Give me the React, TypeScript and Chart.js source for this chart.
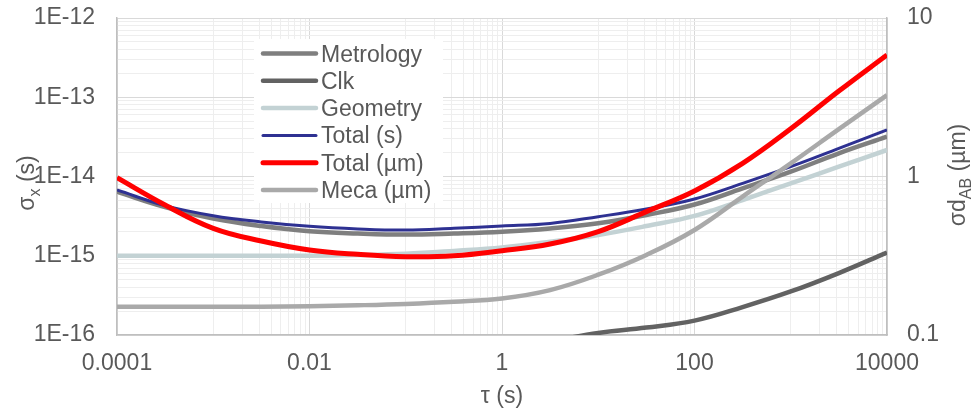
import React, { useEffect, useRef } from 'react';
import { Chart, registerables } from 'chart.js';

Chart.register(...registerables);

// ---- data ----
const TAU = [1e-4, 3.16e-4, 1e-3, 3.16e-3, 0.01, 0.0316, 0.1, 0.316, 1, 3.16, 10, 31.6, 100, 316, 1000, 3160, 10000];

const METROLOGY = [6.43e-15, 4.12e-15, 2.95e-15, 2.37e-15, 2.04e-15, 1.91e-15, 1.85e-15, 1.91e-15, 2.01e-15, 2.21e-15, 2.57e-15, 3.27e-15, 4.43e-15, 7.1e-15, 1.15e-14, 1.96e-14, 3.18e-14];
const CLK = [null, null, null, null, null, null, null, null, 7e-17, 8.4e-17, 1.06e-16, 1.24e-16, 1.52e-16, 2.25e-16, 3.54e-16, 6.05e-16, 1.1e-15];
const GEOMETRY = [1.0e-15, 1.0e-15, 1.0e-15, 1.0e-15, 1.0e-15, 1.02e-15, 1.06e-15, 1.15e-15, 1.27e-15, 1.5e-15, 1.83e-15, 2.37e-15, 3.18e-15, 5.05e-15, 8.2e-15, 1.33e-14, 2.16e-14];
const TOTAL_S = [6.76e-15, 4.29e-15, 3.2e-15, 2.67e-15, 2.35e-15, 2.18e-15, 2.11e-15, 2.22e-15, 2.37e-15, 2.56e-15, 3.11e-15, 3.89e-15, 5.2e-15, 8.2e-15, 1.33e-14, 2.26e-14, 3.87e-14];
const TOTAL_UM = [0.983, 0.661, 0.471, 0.392, 0.344, 0.323, 0.312, 0.316, 0.34, 0.375, 0.449, 0.6, 0.81, 1.21, 2.0, 3.46, 5.85];
const MECA_UM = [0.151, 0.151, 0.151, 0.151, 0.152, 0.154, 0.157, 0.162, 0.17, 0.192, 0.24, 0.32, 0.46, 0.747, 1.21, 1.99, 3.26];

const SERIES_NAMES = ['Metrology', 'Clk', 'Geometry', 'Total (s)', 'Total (µm)', 'Meca (µm)'];

const X_TICK_VALUES = [1e-4, 1e-2, 1, 100, 10000];
const X_TICK_LABELS = ['0.0001', '0.01', '1', '100', '10000'];
const YL_TICK_VALUES = [1e-16, 1e-15, 1e-14, 1e-13, 1e-12];
const YL_TICK_LABELS = ['1E-16', '1E-15', '1E-14', '1E-13', '1E-12'];
const YR_TICK_VALUES = [0.1, 1, 10];
const YR_TICK_LABELS = ['0.1', '1', '10'];

// ---- styles ----
const FONT = '"Liberation Sans", Arial, sans-serif';
const TEXT = '#595959';
const MAJOR = '#d9d9d9';
const MINOR = '#eeeeee';
const AXIS = '#bfbfbf';

const STYLES = [
  { color: '#7f7f7f', width: 4.5, axis: 'y', order: 5 },
  { color: '#626262', width: 4.5, axis: 'y', order: 4 },
  { color: '#c3d2d4', width: 4.5, axis: 'y', order: 3 },
  { color: '#2e3192', width: 3, axis: 'y', order: 2 },
  { color: '#ff0000', width: 5, axis: 'y2', order: 1 },
  { color: '#a9a9a9', width: 4.5, axis: 'y2', order: 0 },
];

const r6 = (v: number) => Number(v.toPrecision(6));

function labelFor(value: number, values: number[], labels: string[]) {
  for (let i = 0; i < values.length; i++) {
    if (Math.abs(Math.log10(value) - Math.log10(values[i])) < 1e-6) return labels[i];
  }
  return '';
}

function xTicks() {
  const t: { value: number; major: boolean }[] = [];
  for (let e = -4; e < 4; e += 2) {
    t.push({ value: r6(Math.pow(10, e)), major: true });
    for (let m = 1; m <= 9; m++) t.push({ value: r6(m * Math.pow(10, e + 1)), major: false });
  }
  t.push({ value: 1e4, major: true });
  return t;
}

function yTicks() {
  const t: { value: number; major: boolean }[] = [];
  for (let e = -16; e < -12; e++) {
    for (let m = 1; m <= 9; m++) t.push({ value: r6(m * Math.pow(10, e)), major: m === 1 });
  }
  t.push({ value: 1e-12, major: true });
  return t;
}

function drawRotated(ctx: CanvasRenderingContext2D, x: number, cy: number, parts: { t: string; sub?: boolean }[]) {
  const main = `23px ${FONT}`;
  const sub = `16px ${FONT}`;
  ctx.save();
  ctx.translate(x, cy);
  ctx.rotate(-Math.PI / 2);
  ctx.fillStyle = TEXT;
  ctx.textBaseline = 'alphabetic';
  ctx.textAlign = 'left';
  let total = 0;
  for (const p of parts) {
    ctx.font = p.sub ? sub : main;
    total += ctx.measureText(p.t).width;
  }
  let cx = -total / 2;
  for (const p of parts) {
    ctx.font = p.sub ? sub : main;
    ctx.fillText(p.t, cx, p.sub ? 6 : 0);
    cx += ctx.measureText(p.t).width;
  }
  ctx.restore();
}

const decorPlugin = {
  id: 'decor',
  afterDraw(chart: any) {
    const ctx: CanvasRenderingContext2D = chart.ctx;
    const a = chart.chartArea;
    // axis titles
    drawRotated(ctx, 34, 183, [{ t: 'σ' }, { t: 'x', sub: true }, { t: ' (s)' }]);
    drawRotated(ctx, 965, 175, [{ t: 'σd' }, { t: 'AB', sub: true }, { t: ' (µm)' }]);
    ctx.save();
    ctx.font = `23px ${FONT}`;
    ctx.fillStyle = TEXT;
    ctx.textAlign = 'center';
    ctx.textBaseline = 'alphabetic';
    ctx.fillText('τ (s)', (a.left + a.right) / 2, 403);
    ctx.restore();

    // legend
    const bx = a.left + 137;
    const by = a.top + 21;
    ctx.save();
    ctx.fillStyle = '#ffffff';
    ctx.fillRect(bx, by, 189, 164);
    ctx.font = `23px ${FONT}`;
    ctx.textAlign = 'left';
    ctx.textBaseline = 'alphabetic';
    SERIES_NAMES.forEach((name, i) => {
      const s = STYLES[i];
      const yy = by + 14.5 + i * 27.3;
      ctx.strokeStyle = s.color;
      ctx.lineWidth = s.width;
      ctx.lineCap = 'round';
      ctx.beginPath();
      ctx.moveTo(bx + 9, yy);
      ctx.lineTo(bx + 62, yy);
      ctx.stroke();
      ctx.fillStyle = TEXT;
      ctx.fillText(name, bx + 67, yy + 8);
    });
    ctx.restore();
  },
};

const SERIES = [METROLOGY, CLK, GEOMETRY, TOTAL_S, TOTAL_UM, MECA_UM];

const fixVertical = (w: number) => (s: any) => {
  s.width = w;
  s.paddingTop = 18;
  s.paddingBottom = 0;
};

export default function App() {
  const ref = useRef<HTMLCanvasElement | null>(null);
  useEffect(() => {
    if (!ref.current) return;
    const datasets = SERIES.map((arr, i) => ({
      label: SERIES_NAMES[i],
      data: TAU.map((t, k) => ({ x: t, y: arr[k] })).filter((p) => p.y !== null),
      borderColor: STYLES[i].color,
      backgroundColor: STYLES[i].color,
      borderWidth: STYLES[i].width,
      yAxisID: STYLES[i].axis,
      order: STYLES[i].order,
      pointRadius: 0,
      fill: false,
      tension: 0.4,
    }));
    const chart = new Chart(ref.current, {
      type: 'line',
      data: { datasets },
      plugins: [decorPlugin],
      options: {
        animation: false,
        responsive: true,
        maintainAspectRatio: false,
        layout: { padding: { top: 0, left: 0, right: 0, bottom: 0 } },
        plugins: { legend: { display: false }, tooltip: { enabled: false } },
        scales: {
          x: {
            type: 'logarithmic',
            min: 1e-4,
            max: 1e4,
            afterBuildTicks: (s: any) => { s.ticks = xTicks(); },
            afterFit: (s: any) => { s.height = 75; },
            ticks: {
              autoSkip: false,
              maxRotation: 0,
              padding: 15,
              color: TEXT,
              font: { family: FONT, size: 23 },
              callback: (v: any) => labelFor(Number(v), X_TICK_VALUES, X_TICK_LABELS),
            },
            grid: {
              drawTicks: false,
              color: (c: any) => (c.tick && c.tick.major ? MAJOR : MINOR),
              lineWidth: 1,
            },
            border: { color: AXIS, width: 1.5 },
          },
          y: {
            type: 'logarithmic',
            position: 'left',
            min: 1e-16,
            max: 1e-12,
            afterBuildTicks: (s: any) => { s.ticks = yTicks(); },
            afterFit: fixVertical(117),
            ticks: {
              autoSkip: false,
              padding: 22,
              color: TEXT,
              font: { family: FONT, size: 23 },
              callback: (v: any) => labelFor(Number(v), YL_TICK_VALUES, YL_TICK_LABELS),
            },
            grid: {
              drawTicks: false,
              color: (c: any) => (c.tick && c.tick.major ? MAJOR : MINOR),
              lineWidth: 1,
            },
            border: { color: AXIS, width: 1.5 },
          },
          y2: {
            type: 'logarithmic',
            position: 'right',
            min: 0.1,
            max: 10,
            afterBuildTicks: (s: any) => { s.ticks = YR_TICK_VALUES.map((v) => ({ value: v, major: true })); },
            afterFit: fixVertical(90),
            ticks: {
              autoSkip: false,
              padding: 20,
              color: TEXT,
              font: { family: FONT, size: 23 },
              callback: (v: any) => labelFor(Number(v), YR_TICK_VALUES, YR_TICK_LABELS),
            },
            grid: { drawOnChartArea: false, drawTicks: false },
            border: { color: AXIS, width: 1.5 },
          },
        },
      },
    });
    return () => chart.destroy();
  }, []);
  return (
    <div style={{ position: 'absolute', left: 0, top: 0, width: 977, height: 410, background: '#fff' }}>
      <canvas ref={ref} />
    </div>
  );
}
